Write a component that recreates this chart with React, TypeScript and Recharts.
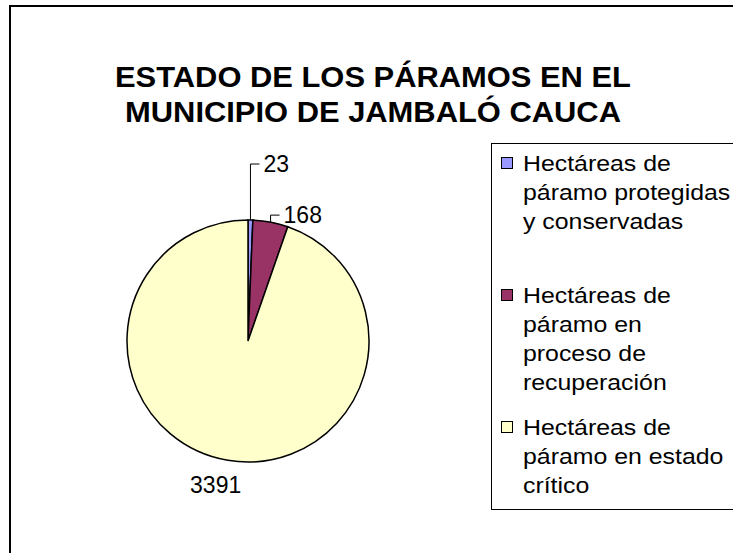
import React from 'react';
import { PieChart, Pie, Cell, Legend } from 'recharts';

const categories = [
  'Hectáreas de\npáramo protegidas\ny conservadas',
  'Hectáreas de\npáramo en\nproceso de\nrecuperación',
  'Hectáreas de\npáramo en estado\ncrítico',
];
const hectareas = [23, 168, 3391];
const colors = ['#9999FF', '#993366', '#FFFFCC'];
const titleLines = ['ESTADO DE LOS PÁRAMOS EN EL', 'MUNICIPIO DE JAMBALÓ CAUCA'];

const data = categories.map((name, i) => ({ name, value: hectareas[i] }));

const FONT = "'Liberation Sans', Arial, Helvetica, sans-serif";
const RAD = Math.PI / 180;

const renderLabel = (p: any) => {
  const { cx, cy, midAngle, outerRadius, index, value } = p;
  const cos = Math.cos(-midAngle * RAD);
  const sin = Math.sin(-midAngle * RAD);
  if (index === data.length - 1) {
    const r = outerRadius + 25;
    const x = cx + r * cos - 8;
    const y = cy + r * sin;
    return (
      <text x={x} y={y} textAnchor="middle" dominantBaseline="central" fontFamily={FONT} fontSize={23} fill="#000">
        {value}
      </text>
    );
  }
  const ex = cx + outerRadius * cos;
  const ey = cy + outerRadius * sin;
  const rise = index === 0 ? 56 : 7;
  const ty = ey - rise;
  const hx = ex + 9;
  return (
    <g>
      <polyline points={`${ex},${ey} ${ex},${ty} ${hx},${ty}`} fill="none" stroke="#000" strokeWidth={1} />
      <text x={hx + 4} y={ty} textAnchor="start" dominantBaseline="central" fontFamily={FONT} fontSize={23} fill="#000">
        {value}
      </text>
    </g>
  );
};

const renderLegend = () => {
  return (
    <div
      style={{
        position: 'relative',
        width: '100%',
        height: '100%',
        boxSizing: 'border-box',
        border: '1px solid #000',
        background: '#fff',
        fontFamily: FONT,
        fontSize: 22,
        color: '#000',
      }}
    >
      {data.map((entry, i) => (
        <div key={i} style={{ position: 'absolute', left: 0, top: 4.5 + i * 132, width: 300 }}>
          <div
            style={{
              position: 'absolute',
              left: 9,
              top: 8,
              width: 10,
              height: 10,
              background: colors[i],
              border: '1px solid #000',
            }}
          />
          <div
            style={{
              position: 'absolute',
              left: 31,
              top: 0,
              whiteSpace: 'pre',
              lineHeight: '29px',
              transform: 'scaleX(1.13)',
              transformOrigin: '0 0',
            }}
          >
            {entry.name}
          </div>
        </div>
      ))}
    </div>
  );
};

export default function App() {
  return (
    <div style={{ position: 'absolute', left: 0, top: 0, width: 733, height: 553, overflow: 'hidden', background: '#fff' }}>
      <div
        style={{
          position: 'absolute',
          left: 9,
          top: 5,
          width: 800,
          height: 700,
          border: '2px solid #000',
          boxSizing: 'border-box',
        }}
      />
      <div
        style={{
          position: 'absolute',
          left: 0,
          top: 60,
          width: 746,
          textAlign: 'center',
          fontFamily: FONT,
          fontWeight: 'bold',
          fontSize: 29,
          lineHeight: '35px',
          color: '#000',
          transform: 'scaleX(1.065)',
          transformOrigin: '373px 0',
        }}
      >
        {titleLines.map((t, i) => (
          <div key={i}>{t}</div>
        ))}
      </div>
      <div style={{ position: 'absolute', left: 0, top: 0 }}>
        <PieChart width={733} height={553} margin={{ top: 0, right: 0, bottom: 0, left: 0 }}>
          <Pie
            data={data}
            dataKey="value"
            nameKey="name"
            cx={248}
            cy={341}
            outerRadius={121}
            startAngle={90}
            endAngle={-270}
            stroke="#000"
            strokeWidth={1.5}
            label={renderLabel}
            labelLine={false}
            isAnimationActive={false}
          >
            {data.map((d, i) => (
              <Cell key={d.name} fill={colors[i]} />
            ))}
          </Pie>
          <Legend
            layout="vertical"
            align="right"
            verticalAlign="top"
            content={renderLegend}
            wrapperStyle={{ position: 'absolute', left: 491, top: 143, width: 260, height: 367 }}
          />
        </PieChart>
      </div>
    </div>
  );
}
